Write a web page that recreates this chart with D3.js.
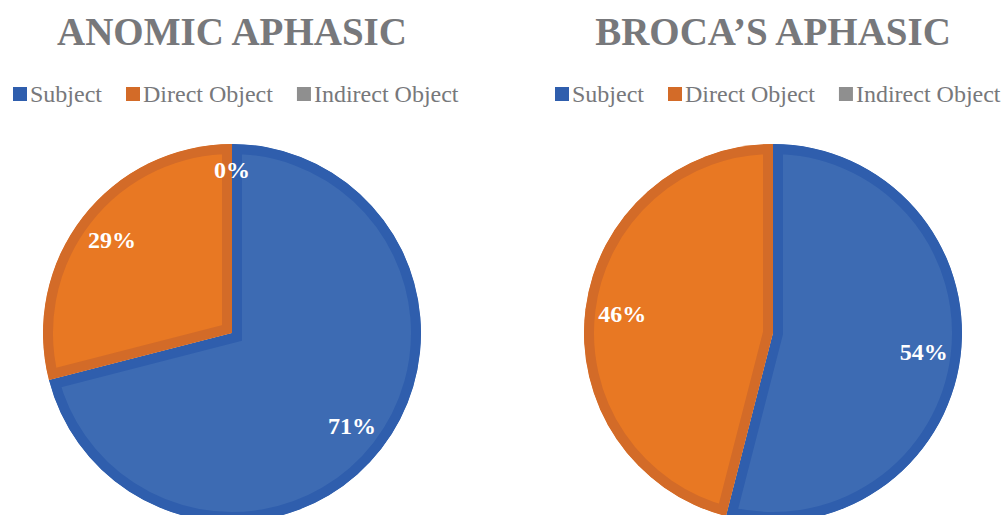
<!DOCTYPE html>
<html>
<head>
<meta charset="utf-8">
<script src="https://cdn.jsdelivr.net/npm/d3@7"></script>
<style>
  body { margin: 0; background: #fff; }
  text { font-family: "Liberation Serif", "Times New Roman", serif; }
</style>
</head>
<body>
<svg id="chart" width="1005" height="515"></svg>
<script>

var categories = ["Subject", "Direct Object", "Indirect Object"];
var titles = ["ANOMIC APHASIC", "BROCA\u2019S APHASIC"];
var anomicValues = [71, 29, 0];
var brocaValues = [54, 46, null];   // no label drawn for the last one on this chart

var fills = ["#3d6bb3", "#e87823", "#a3a3a3"];
var borders = ["#2f5ead", "#d36b28", "#8f8f8f"];

var svg = d3.select("#chart");

var color = d3.scaleOrdinal().domain(categories).range(fills);
var border = d3.scaleOrdinal().domain(categories).range(borders);

var radius = 189,
  labelRadius = 152,
  edge = 10;

// chart centres and legend starting points
var panels = [
  {title: titles[0], values: anomicValues, cx: 232, cy: 333, legendX: 13},
  {title: titles[1], values: brocaValues, cx: 773, cy: 333, legendX: 555}
];

var pie = d3.pie()
  .sort(null)
  .value(function(d) { return d.value || 0; });

var arc = d3.arc().innerRadius(0).outerRadius(radius);

panels.forEach(function(p, pi) {
  var data = categories.map(function(c, i) { return {name: c, value: p.values[i]}; });

  // title
  svg.append("text")
    .attr("x", p.cx)
    .attr("y", 45)
    .attr("text-anchor", "middle")
    .attr("font-size", 39)
    .attr("font-weight", "bold")
    .attr("fill", "#77787b")
    .text(p.title);

  // legend
  var lx = p.legendX;
  categories.forEach(function(c) {
    svg.append("rect")
      .attr("x", lx).attr("y", 87)
      .attr("width", 14).attr("height", 14)
      .attr("fill", border(c));
    var t = svg.append("text")
      .attr("x", lx + 17)
      .attr("y", 102)
      .attr("font-size", 24)
      .attr("fill", "#77787b")
      .text(c);
    lx += 17 + t.node().getComputedTextLength() + 24;
  });

  var g = svg.append("g")
    .attr("transform", "translate(" + p.cx + "," + p.cy + ")");

  var arcs = pie(data);

  // each slice gets a clip so its border sits inside it
  g.selectAll("clipPath")
    .data(arcs)
    .enter().append("clipPath")
    .attr("id", function(d, i) { return "clip" + pi + "_" + i; })
    .append("path")
    .attr("d", arc);

  g.selectAll("path.slice")
    .data(arcs.filter(function(d) { return d.value > 0; }))
    .enter().append("path")
    .attr("class", "slice")
    .attr("d", arc)
    .attr("fill", function(d) { return color(d.data.name); })
    .attr("stroke", function(d) { return border(d.data.name); })
    .attr("stroke-width", edge * 2)
    .attr("stroke-linejoin", "miter")
    .attr("clip-path", function(d) { return "url(#clip" + pi + "_" + d.index + ")"; });

  var labelArc = d3.arc().innerRadius(labelRadius).outerRadius(labelRadius);

  g.selectAll("text.lbl")
    .data(arcs.filter(function(d) { return d.data.value != null; }))
    .enter().append("text")
    .attr("class", "lbl")
    .attr("transform", function(d) {
      var c = labelArc.centroid(d);
      if (d.data.value === 0) c[1] -= 11;
      return "translate(" + c[0] + "," + c[1] + ")";
    })
    .attr("text-anchor", "middle")
    .attr("dy", "0.34em")
    .attr("font-size", 24)
    .attr("font-weight", "bold")
    .attr("fill", "#fff")
    .text(function(d) { return d.data.value + "%"; });
});

</script>
</body>
</html>
